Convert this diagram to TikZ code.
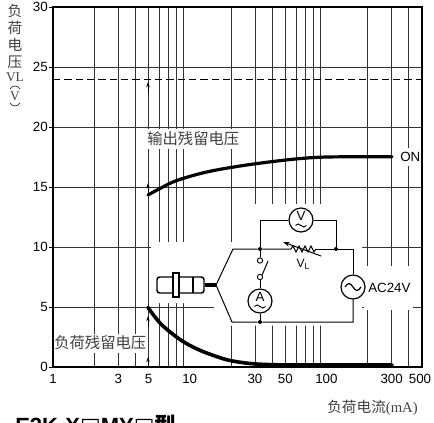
\documentclass[tikz,border=0pt]{standalone}
\usepackage{fontspec}
\setmainfont{Liberation Sans}
\newfontfamily\cjk{Noto Sans CJK SC}
\newfontfamily\serifz{Liberation Serif}
\newfontfamily\dejavu{DejaVu Sans}
\usetikzlibrary{arrows.meta}
\begin{document}
\begin{tikzpicture}[x=0.75pt,y=-0.75pt,
  gridl/.style={line width=0.45pt,black!80},
  dashl/.style={line width=0.6pt,dash pattern=on 5.5pt off 3pt},
  framel/.style={line width=1.1pt},
  curvel/.style={line width=2.4pt,line cap=round},
  wire/.style={line width=0.75pt},
  meter/.style={circle,draw,line width=0.9pt,minimum size=18pt,inner sep=0pt},
  jdot/.style={circle,fill,inner sep=0pt,minimum size=3pt},
  contact/.style={circle,draw,line width=0.7pt,inner sep=0pt,minimum size=4pt},
  num/.style={font=\fontsize{10}{12}\selectfont,inner sep=0pt},
  cjkl/.style={font=\cjk\fontsize{11.5}{13}\selectfont,text=black!75,inner sep=0pt},
  cjkt/.style={font=\cjk\fontsize{11}{12}\selectfont,text=black!75,inner sep=0pt},
  sert/.style={font=\serifz\fontsize{10}{11}\selectfont,text=black!75,inner sep=0pt},
  upmark/.style={line width=0.6pt,-{Stealth[length=4pt,width=2.6pt]}}
]
\useasboundingbox (0,0) rectangle (434,422);
% grid
\foreach \gv in {2,...,9,20,30,40,50,60,70,80,90,200,300,400}{
  \pgfmathsetmacro\xx{53+136.7*log10(\gv)}
  \draw[gridl] (\xx,7) -- (\xx,367);
}
\foreach \yv in {5,10,15,20,25}{
  \draw[gridl] (53,{367-12*\yv}) -- (422,{367-12*\yv});
}
\draw[dashl] (53,79) -- (422,79);
% white boxes behind labels and circuit
\fill[white] (151,242) -- (362,242) -- (362,325.5) -- (214,325.5) -- (214,303) -- (151,303) -- cycle;
\fill[white] (240,204) rectangle (346,242);
\fill[white] (364,266) rectangle (413,310);
\fill[white] (399,148) rectangle (420.5,166);
\fill[white] (145,128.5) rectangle (247,149);
\fill[white] (54,334) rectangle (146,353);
% frame and ticks
\draw[framel] (53,7) rectangle (422,367);
\foreach \yv in {0,5,...,30}{
  \draw[line width=0.7pt] (49,{367-12*\yv}) -- (53,{367-12*\yv});
  \node[num,anchor=east] (ylab\yv) at (48,{367-12*\yv}) {\yv};
}
\foreach \xv in {1,3,5,10,30,50,100,300}{
  \pgfmathsetmacro\xx{53+136.7*log10(\xv)}
  \node[num] (xlab\xv) at (\xx,379) {\xv};
}
\node[num] (xlab500) at (420,379) {500};
% curves
\draw[curvel] plot[smooth,tension=0.55] coordinates {(148,195) (160,188.5) (176.7,180.5) (206.7,172) (240,166) (273,161.5) (303,158.3) (327,157) (360,156.8) (392,156.8)};
\draw[curvel,line width=2.7pt] plot[smooth,tension=0.55] coordinates {(148,307.5) (155,317) (163,326) (180,339.5) (197,349) (215,356) (230,360.5) (250,363.5) (270,364.6) (300,365) (392,365)};
% small marks at 5 mA
\draw[upmark] (148,93) -- (148,82);
\draw[upmark] (148,192) -- (148,183);
\draw[upmark] (148,327) -- (148,316);
\draw[upmark] (148,367) -- (148,357);
% curve labels
\node[cjkl,anchor=west] (lout) at (147,139) {输出残留电压};
\node[cjkl,anchor=west] (lload) at (54,343) {负荷残留电压};
\node[num,anchor=west] (lon) at (400,157) {ON};
% axis titles
\node[cjkt] (t1) at (15,11) {负};
\node[cjkt] (t2) at (15,28) {荷};
\node[cjkt] (t3) at (15,45) {电};
\node[cjkt] (t4) at (15,62) {压};
\node[sert] (t5) at (15,77) {VL};
\draw[line width=0.6pt,black!75] (10,89) .. controls (12,85) and (18,85) .. (20,89);
\node[sert] (t6) at (15,96) {V};
\draw[line width=0.6pt,black!75] (10,103) .. controls (12,107) and (18,107) .. (20,103);
\node[cjkl,anchor=west,font=\cjk\fontsize{11}{13}\selectfont] (xt) at (327,408) {负荷电流{\serifz (mA)}};
\node[anchor=north west,inner sep=0pt,font=\bfseries\fontsize{16.5}{18}\selectfont] (model) at (15,415) {E2K-X{\dejavu □}MY{\dejavu □}{\cjk 型}};
% sensor
\node[draw,line width=1.1pt,rounded corners=2pt,minimum width=35.25pt,minimum height=12pt,inner sep=0pt] (sens) at (180.5,285) {};
\draw[line width=1pt] (193,277) -- (193,293);
\node[draw,fill=white,line width=1pt,minimum width=4.5pt,minimum height=18pt,inner sep=0pt] (nut) at (176,285) {};
\coordinate (J) at (216,285);
\draw[line width=2.4pt] (sens.east) -- (J);
% circuit
\coordinate (UL) at (233,249);
\coordinate (LL) at (232,322);
\node[jdot] (n1) at (260,249) {};
\node[jdot] (n2) at (336,249) {};
\node[jdot] (n3) at (260,322) {};
\coordinate (ur) at (353,249);
\coordinate (lr) at (353,322);
\node[meter] (ac) at (353,287) {};
\node[meter] (vm) at (301,220) {};
\node[meter] (am) at (260,301) {};
\coordinate (vl) at (260,220);
\coordinate (vr) at (336,220);
\node[contact] (c1) at (260,260.5) {};
\node[contact] (c2) at (260,277) {};
\coordinate (bl) at (268,261);
\coordinate (r1) at (291,249);
\coordinate (r2) at (316,249);
\draw[wire] (J) -- (UL) -- (n1) -- (r1);
\draw[wire] (r1) -- (293,246) -- (296,252) -- (299,246) -- (302,252) -- (305,246) -- (308,252) -- (311,246) -- (314,252) -- (r2);
\draw[wire] (r2) -- (n2) -- (ur) -- (ac.north);
\draw[wire] (ac.south) -- (lr) -- (n3) -- (LL) -- (J);
\draw[wire] (n1) -- (vl) -- (vm.west);
\draw[wire] (vm.east) -- (vr) -- (n2);
\draw[wire] (n1) -- (c1.north);
\draw[wire] (c2.south) -- (am.north);
\draw[wire] (am.south) -- (n3);
\draw[wire] (c2.north east) -- (bl);
\coordinate (ra1) at (321,256);
\coordinate (ra2) at (283,242);
\draw[wire,-{Stealth[length=5pt,width=3.5pt]}] (ra1) -- (ra2);
\node[font=\fontsize{9}{10}\selectfont,inner sep=0pt] (vlab) at (303,264) {V\raisebox{-1.5pt}{\fontsize{6.5}{7}\selectfont L}};
% meter symbols
\node[font=\fontsize{10}{11}\selectfont,inner sep=0pt] (vsym) at (301,216) {V};
\draw[line width=0.7pt] (295.5,225.5) sin (298.25,224) cos (301,225.5) sin (303.75,227) cos (306.5,225.5);
\node[font=\fontsize{10}{11}\selectfont,inner sep=0pt] (asym) at (260,297) {A};
\draw[line width=0.7pt] (254.5,306.5) sin (257.25,305) cos (260,306.5) sin (262.75,308) cos (265.5,306.5);
\draw[line width=0.9pt] (345,287) sin (349,283.5) cos (353,287) sin (357,290.5) cos (361,287);
\node[num,anchor=west] (aclab) at (368,288) {AC24V};
\end{tikzpicture}
\end{document}
